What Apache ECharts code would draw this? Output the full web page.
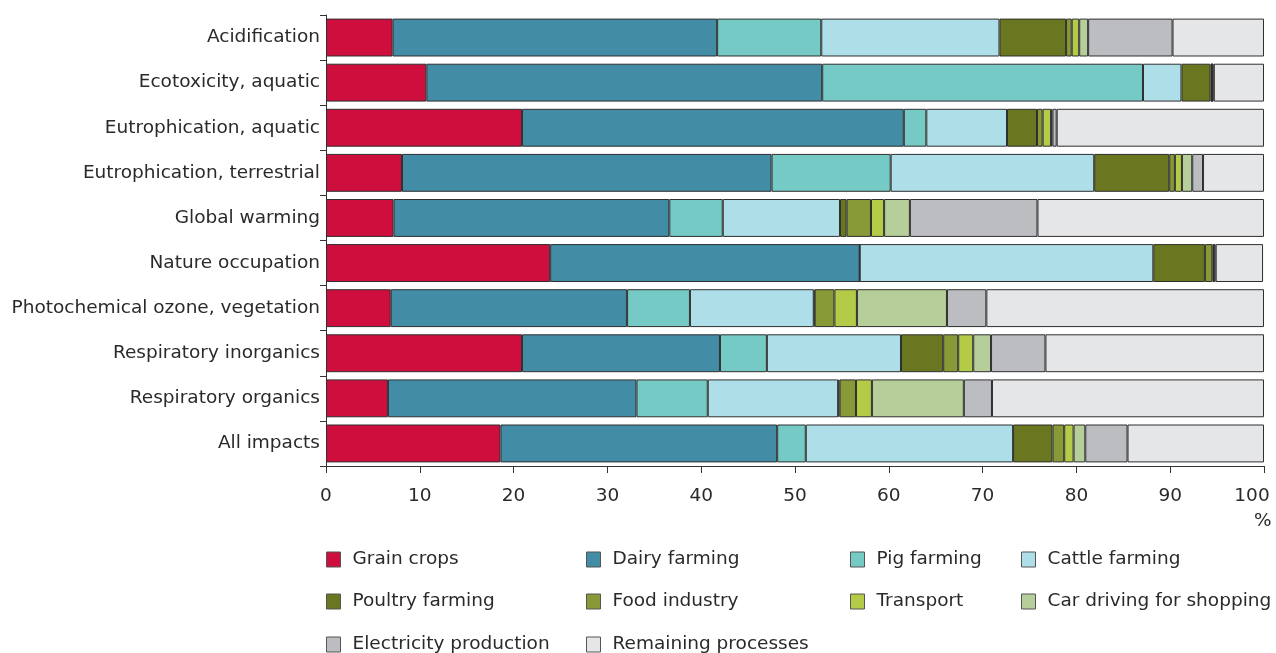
<!DOCTYPE html>
<html><head><meta charset="utf-8">
<script src="https://cdn.jsdelivr.net/npm/echarts@6/dist/echarts.min.js"></script>
<style>html,body{margin:0;padding:0;background:#fff}#c{width:1276px;height:653px}</style>
</head><body><div id="c"></div>
<script>
const categories = ["Acidification","Ecotoxicity, aquatic","Eutrophication, aquatic","Eutrophication, terrestrial","Global warming","Nature occupation","Photochemical ozone, vegetation","Respiratory inorganics","Respiratory organics","All impacts"];
const seriesNames = ["Grain crops","Dairy farming","Pig farming","Cattle farming","Poultry farming","Food industry","Transport","Car driving for shopping","Electricity production","Remaining processes"];
const colors = ["#CE0F3E","#438CA6","#75CAC6","#AEDFE8","#6B7720","#879A37","#B4CB47","#B6CE9A","#BCBDC0","#E5E6E8"];
// shares (%), per category
const grainCrops   = [7.1, 10.7, 20.9, 8.1, 7.2, 23.9, 6.9, 20.9, 6.6, 18.6];
const dairyFarming = [34.6, 42.2, 40.7, 39.4, 29.4, 33.0, 25.2, 21.1, 26.5, 29.5];
const pigFarming   = [11.1, 34.2, 2.4, 12.7, 5.7, 0.0, 6.7, 5.0, 7.6, 3.05];
const cattleFarming= [19.0, 4.1, 8.6, 21.7, 12.5, 31.3, 13.2, 14.3, 13.9, 22.1];
const poultryFarming=[7.1, 3.1, 3.2, 8.0, 0.7, 5.5, 0.1, 4.5, 0.15, 4.2];
const foodIndustry = [0.6, 0.15, 0.6, 0.6, 2.6, 0.8, 2.1, 1.6, 1.75, 1.25];
const transport    = [0.8, 0.0, 0.9, 0.75, 1.4, 0.15, 2.4, 1.6, 1.7, 1.0];
const carDriving   = [0.95, 0.0, 0.15, 1.1, 2.75, 0.0, 9.6, 1.9, 9.8, 1.25];
const electricity  = [9.0, 0.2, 0.45, 1.15, 13.6, 0.2, 4.2, 5.8, 3.0, 4.5];
const remaining    = [9.75, 5.35, 22.1, 6.5, 24.15, 5.05, 29.6, 23.3, 29.0, 14.55];
const allValues = [grainCrops, dairyFarming, pigFarming, cattleFarming, poultryFarming, foodIndustry, transport, carDriving, electricity, remaining];
const xTicks = [0,10,20,30,40,50,60,70,80,90,100];

const font = "DejaVu Sans, Verdana, sans-serif";
const fs = 18.5;
const series = seriesNames.map((n,i)=>({
  name:n, type:'bar', stack:'total', data: allValues[i],
  barCategoryGap:'16%',
  itemStyle:{color:colors[i], borderColor:'#2f2f2f', borderWidth:1},
  emphasis:{disabled:true}
}));
// legend layout: [series index, left, row]
const legendPos = [[0,326,0],[1,586,0],[2,850,0],[3,1021,0],[4,326,1],[5,586,1],[6,850,1],[7,1021,1],[8,326,2],[9,586,2]];
const rowCenters = [561, 603, 646];
const legends = legendPos.map(([si,left,row])=>({
  left:left, top:rowCenters[row]-11, orient:'horizontal', data:[seriesNames[si]], padding:0,
  itemWidth:14, itemHeight:15, icon:'rect', selectedMode:false,
  textStyle:{fontFamily:font, fontSize:fs, color:'#2a2a2a', padding:[0,0,0,7]},
  itemStyle:{borderColor:'#555', borderWidth:1}
}));
const chart = echarts.init(document.getElementById('c'), null, {renderer:'canvas'});
chart.setOption({
  animation:false,
  color:colors,
  grid:{left:326, right:12, top:15, bottom:187, containLabel:false, outerBoundsMode:'none'},
  xAxis:{type:'value', min:0, max:100, interval:10,
    axisLine:{show:true, lineStyle:{color:'#333', width:1}},
    axisTick:{show:true, length:7, lineStyle:{color:'#333'}},
    splitLine:{show:false},
    axisLabel:{fontFamily:font, fontSize:fs, color:'#2a2a2a', margin:21,
      formatter:v=> v===100 ? '{m|100}' : (xTicks.includes(v)? String(v):''),
      rich:{m:{fontFamily:font, fontSize:fs, color:'#2a2a2a', padding:[0,24,0,0]}}}},
  yAxis:{type:'category', data:categories, inverse:true,
    axisLine:{show:true, lineStyle:{color:'#333', width:1}},
    axisTick:{show:true, length:6, lineStyle:{color:'#333'}},
    axisLabel:{fontFamily:font, fontSize:fs, color:'#2a2a2a', margin:6}},
  legend:legends,
  graphic:[{type:'text', left:1254, top:512, style:{text:'%', font:fs+'px '+font, fill:'#2a2a2a'}}],
  series:series
});
</script></body></html>
